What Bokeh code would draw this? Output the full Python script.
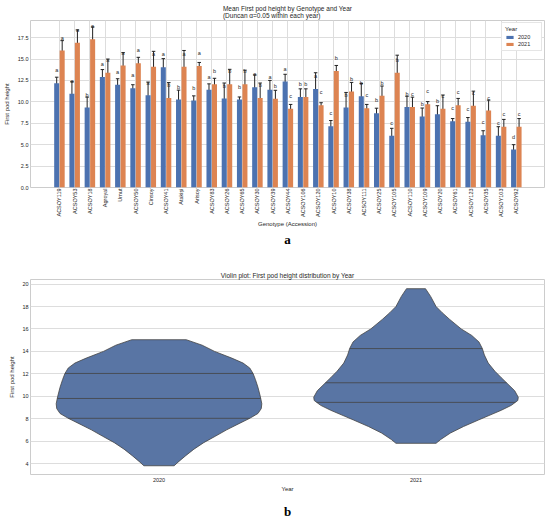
import numpy as np
from bokeh.plotting import figure
from bokeh.models import (ColumnDataSource, Range1d, FixedTicker, Whisker, TeeHead,
                          Legend, LegendItem, Title)
from bokeh.layouts import column
from bokeh.embed import file_html
from bokeh.resources import INLINE
from bokeh.core.properties import value

# ---------------- data (panel a) ----------------
genotypes = ["ACSOY119", "ACSOY53", "ACSOY18", "Agroyal", "Umut", "ACSOY50", "Cinsoy",
             "ACSOY41", "Atakişi", "Arisoy", "ACSOY83", "ACSOY26", "ACSOY65", "ACSOY30",
             "ACSOY39", "ACSOY44", "ACSOY106", "ACSOY120", "ACSOY10", "ACSOY38", "ACSOY111",
             "ACSOY25", "ACSOY105", "ACSOY110", "ACSOY109", "ACSOY20", "ACSOY61", "ACSOY123",
             "ACSOY35", "ACSOY103", "ACSOY92"]
mean_2020 = [12.18, 10.95, 9.35, 12.9, 12.0, 11.6, 10.76, 14.05, 10.27, 10.15, 11.4, 10.4,
             10.27, 11.7, 11.4, 12.37, 10.57, 11.5, 7.15, 9.35, 10.65, 8.66, 6.03, 9.4, 8.28,
             8.55, 7.75, 7.67, 6.1, 6.03, 4.43]
err_2020 = [0.7, 1.4, 1.2, 0.87, 0.7, 0.4, 1.55, 1.0, 1.1, 0.55, 0.7, 1.8, 0.3, 1.45, 1.1,
            0.85, 0.95, 1.9, 0.67, 1.75, 1.5, 0.6, 0.88, 1.25, 1.0, 1.0, 0.3, 0.5, 0.53,
            1.07, 0.57]
mean_2021 = [16.0, 16.9, 17.3, 13.4, 14.25, 14.5, 14.1, 10.45, 14.1, 14.2, 12.05, 12.05,
             12.05, 10.45, 10.35, 9.2, 10.57, 9.6, 13.6, 11.2, 9.25, 10.7, 13.4, 9.4, 9.73,
             9.2, 9.6, 9.55, 9.0, 7.1, 7.1]
err_2021 = [1.15, 1.5, 1.45, 1.6, 1.5, 0.7, 1.8, 1.8, 1.9, 0.4, 0.7, 1.75, 1.65, 1.75, 1.0,
            0.5, 0.95, 0.3, 0.65, 1.07, 0.45, 1.15, 2.05, 1.15, 0.3, 1.6, 0.8, 1.7, 1.2,
            0.85, 0.95]
letters_2020 = ["a", "a", "b", "a", "a", "a", "a", "a", "b", "b", "a", "b", "b", "a", "a",
                "a", "b", "a", "c", "b", "b", "b", "c", "b", "b", "b", "c", "c", "c", "c", "d"]
letters_2021 = ["a", "a", "a", "a", "a", "a", "a", "b", "a", "a", "b", "b", "b", "b", "b",
                "c", "b", "c", "b", "b", "c", "b", "b", "c", "c", "c", "c", "c", "c", "c", "c"]
years = ["2020", "2021"]
a_yticks = [0.0, 2.5, 5.0, 7.5, 10.0, 12.5, 15.0, 17.5]

# ---------------- data (panel b: violin outlines) ----------------
v2020_y = [15.04, 14.55, 14.0, 13.4, 12.96, 12.52, 12.03, 11.5, 10.8, 10.0, 9.33, 8.9, 8.46,
           8.03, 7.6, 7.0, 6.43, 5.86, 5.28, 4.7, 4.12, 3.8]
v2020_w = [0.106, 0.168, 0.216, 0.283, 0.327, 0.353, 0.366, 0.375, 0.385, 0.394, 0.40, 0.398,
           0.385, 0.353, 0.315, 0.263, 0.219, 0.174, 0.136, 0.104, 0.074, 0.059]
v2021_y = [19.59, 18.9, 18.0, 17.45, 16.87, 16.0, 15.42, 14.84, 14.26, 13.68, 12.96, 12.23,
           11.65, 11.07, 10.49, 9.91, 9.62, 9.19, 8.75, 8.32, 7.88, 7.3, 6.72, 6.14, 5.8]
v2021_w = [0.037, 0.057, 0.078, 0.102, 0.130, 0.176, 0.217, 0.245, 0.258, 0.266, 0.281, 0.307,
           0.332, 0.358, 0.384, 0.398, 0.396, 0.371, 0.332, 0.288, 0.243, 0.185, 0.134, 0.096,
           0.078]
quart_2020 = [12.03, 9.8, 8.03]
quart_2021 = [14.25, 11.2, 9.45]
b_yticks = [4, 6, 8, 10, 12, 14, 16, 18, 20]

BLUE = "#4C72B0"
ORANGE = "#DD8452"
VIOLIN = "#5975A4"
TXT = "#262626"
GRID = "#dddddd"
FONT = "Liberation Sans"
SERIF = "Liberation Serif"


def style(p):
    p.outline_line_color = "#cccccc"
    p.outline_line_width = 1
    p.background_fill_color = "white"
    p.border_fill_color = "white"
    for ax in (p.xaxis[0], p.yaxis[0]):
        ax.axis_line_color = None
        ax.major_tick_line_color = None
        ax.minor_tick_line_color = None
        ax.major_tick_out = 0
        ax.major_tick_in = 0
        ax.minor_tick_out = 0
        ax.minor_tick_in = 0
        ax.major_label_text_font = FONT
        ax.major_label_text_font_size = "5.5px"
        ax.major_label_text_color = TXT
        ax.axis_label_text_font = FONT
        ax.axis_label_text_font_size = "6px"
        ax.axis_label_text_font_style = "normal"
        ax.axis_label_text_color = TXT
        ax.major_label_standoff = 2
        ax.axis_label_standoff = 2
    p.grid.grid_line_color = GRID
    p.grid.grid_line_width = 1
    p.title.text_font = FONT
    p.title.text_font_size = "6.5px"
    p.title.text_font_style = "normal"
    p.title.text_color = TXT
    p.title.align = "center"
    p.title.standoff = 1


def caption(p, txt, standoff):
    p.add_layout(Title(text=txt, align="center", text_font=SERIF, text_font_size="13px",
                       text_font_style="bold", text_color="black", standoff=standoff,
                       text_line_height=0.8),
                 "below")


# ---------------- panel a ----------------
n = len(genotypes)
idx = np.arange(n)
pa = figure(width=549, height=256, output_backend="svg", toolbar_location=None,
            x_range=Range1d(-1.9, n - 1 + 1.85), y_range=Range1d(0, 19.5),
            min_border_left=27, min_border_right=5, min_border_top=17, min_border_bottom=69,
            title="Mean First pod height by Genotype and Year\n(Duncan α=0.05 within each year)")
style(pa)
pa.title.standoff = 4

src20 = ColumnDataSource(dict(x=idx - 0.18, top=mean_2020,
                              upper=np.array(mean_2020) + np.array(err_2020),
                              lower=np.array(mean_2020) - np.array(err_2020),
                              ly=np.array(mean_2020) + 1.5, lab=letters_2020))
src21 = ColumnDataSource(dict(x=idx + 0.18, top=mean_2021,
                              upper=np.array(mean_2021) + np.array(err_2021),
                              lower=np.array(mean_2021) - np.array(err_2021),
                              ly=np.array(mean_2021) + 1.5, lab=letters_2021))

r20 = pa.vbar(x="x", top="top", width=0.33, source=src20, fill_color=BLUE, line_color=None)
r21 = pa.vbar(x="x", top="top", width=0.33, source=src21, fill_color=ORANGE, line_color=None)

for s in (src20, src21):
    w = Whisker(base="x", upper="upper", lower="lower", source=s,
                line_color="#222222", line_width=1,
                upper_head=TeeHead(size=3.5, line_color="#222222", line_width=1),
                lower_head=TeeHead(size=3.5, line_color="#222222", line_width=1))
    pa.add_layout(w)
    pa.text(x="x", y="ly", text="lab", source=s, text_align="center",
            text_baseline="middle", text_font_size="5.5px", text_color=TXT,
            text_font=value(FONT))

pa.xaxis.ticker = FixedTicker(ticks=list(idx))
pa.xaxis.major_label_overrides = {int(i): g for i, g in zip(idx, genotypes)}
pa.xaxis.major_label_orientation = np.pi / 2
pa.xaxis.major_label_standoff = 1
pa.xaxis.axis_label_standoff = 1
pa.yaxis.axis_label_standoff = 5
pa.yaxis.ticker = FixedTicker(ticks=a_yticks)
pa.yaxis.major_label_overrides = {t: f"{t:.1f}" for t in a_yticks}
pa.xaxis.axis_label = "Genotype (Accession)"
pa.yaxis.axis_label = "First pod height"

legend = Legend(items=[LegendItem(label=years[0], renderers=[r20]),
                       LegendItem(label=years[1], renderers=[r21])],
                location="top_right", title="Year")
legend.title_text_font = FONT
legend.title_text_font_size = "6px"
legend.title_text_color = TXT
legend.title_text_font_style = "normal"
legend.label_text_font = FONT
legend.label_text_font_size = "5.5px"
legend.label_text_color = TXT
legend.glyph_width = 9
legend.glyph_height = 4
legend.label_height = 6
legend.spacing = 1
legend.padding = 3
legend.margin = 2
legend.label_standoff = 4
legend.title_standoff = 2
legend.border_line_color = "#cccccc"
legend.background_fill_alpha = 1.0
pa.add_layout(legend)
caption(pa, "a", 1)

# ---------------- panel b ----------------
pb = figure(width=549, height=270, output_backend="svg", toolbar_location=None,
            x_range=Range1d(-0.5, 1.5), y_range=Range1d(3.02, 20.41),
            min_border_left=23, min_border_right=4, min_border_top=23, min_border_bottom=48,
            title="Violin plot: First pod height distribution by Year")
style(pb)
pb.xgrid.visible = False

for k, (vy, vw, qs) in enumerate([(v2020_y, v2020_w, quart_2020),
                                  (v2021_y, v2021_w, quart_2021)]):
    vy = np.array(vy)
    vw = np.array(vw)
    xs = np.concatenate([k + vw, (k - vw)[::-1]])
    ys = np.concatenate([vy, vy[::-1]])
    pb.patch(xs, ys, fill_color=VIOLIN, line_color="#444444", line_width=0.8)
    order = np.argsort(vy)
    for q in qs:
        hw = np.interp(q, vy[order], vw[order])
        pb.line([k - hw, k + hw], [q, q], line_color="#444444", line_width=0.8)

pb.xaxis.ticker = FixedTicker(ticks=[0, 1])
pb.xaxis.major_label_overrides = {0: years[0], 1: years[1]}
pb.yaxis.ticker = FixedTicker(ticks=b_yticks)
pb.xaxis.axis_label = "Year"
pb.yaxis.axis_label = "First pod height"
pb.xaxis.major_label_standoff = 3
pb.xaxis.axis_label_standoff = 1
pb.yaxis.axis_label_standoff = 4
caption(pb, "b", 15)

layout = column(pa, pb, spacing=0)
open("out.html", "w").write(file_html(layout, INLINE))
